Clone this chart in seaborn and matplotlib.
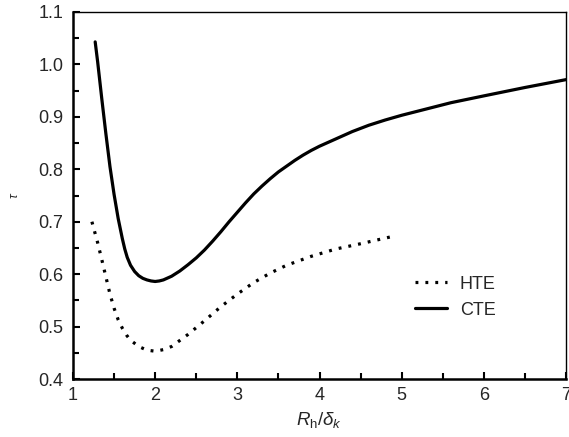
import matplotlib
matplotlib.use("Agg")
import matplotlib.pyplot as plt
import seaborn as sns
import pandas as pd
from matplotlib.ticker import MultipleLocator, FormatStrFormatter

# values
cte_x = [1.27, 1.30, 1.35, 1.40, 1.45, 1.50, 1.55, 1.60, 1.63, 1.66, 1.70, 1.75,
         1.80, 1.85, 1.90, 1.95, 2.00, 2.05, 2.10, 2.20, 2.30, 2.40, 2.50, 2.60,
         2.70, 2.80, 2.90, 3.00, 3.10, 3.20, 3.30, 3.40, 3.50, 3.60, 3.70, 3.80,
         3.90, 4.00, 4.20, 4.40, 4.60, 4.80, 5.00, 5.30, 5.60, 6.00, 6.50, 7.00]
cte_y = [1.043, 1.005, 0.935, 0.868, 0.805, 0.752, 0.706, 0.668, 0.648, 0.632, 0.617, 0.605,
         0.597, 0.592, 0.589, 0.587, 0.586, 0.587, 0.589, 0.596, 0.606, 0.618, 0.631, 0.646,
         0.663, 0.681, 0.700, 0.718, 0.736, 0.753, 0.768, 0.782, 0.795, 0.806, 0.817, 0.827,
         0.836, 0.844, 0.858, 0.872, 0.884, 0.894, 0.903, 0.915, 0.927, 0.940, 0.956, 0.971]

hte_x = [1.23, 1.30, 1.35, 1.40, 1.45, 1.50, 1.55, 1.60, 1.65, 1.70, 1.80, 1.90,
         2.00, 2.10, 2.20, 2.40, 2.60, 2.80, 3.00, 3.20, 3.40, 3.60, 3.90, 4.20,
         4.50, 4.92]
hte_y = [0.700, 0.660, 0.628, 0.595, 0.562, 0.535, 0.513, 0.497, 0.484, 0.474, 0.462, 0.455,
         0.453, 0.456, 0.462, 0.485, 0.511, 0.538, 0.562, 0.584, 0.602, 0.617, 0.634, 0.648,
         0.658, 0.673]

df = pd.concat([
    pd.DataFrame({"x": hte_x, "y": hte_y, "case": "HTE"}),
    pd.DataFrame({"x": cte_x, "y": cte_y, "case": "CTE"}),
])

sns.set_style("ticks")
plt.rcParams["font.family"] = ["Liberation Sans", "DejaVu Sans"]
plt.rcParams["mathtext.fontset"] = "custom"
plt.rcParams["mathtext.it"] = "Liberation Sans:italic"
plt.rcParams["mathtext.rm"] = "Liberation Sans"

fig = plt.figure(figsize=(5.69, 4.37), dpi=100)
ax = fig.add_axes([73 / 569, 1 - 379 / 437, 493 / 569, 367 / 437])

sns.lineplot(data=df, x="x", y="y", hue="case", style="case",
             palette={"HTE": "black", "CTE": "black"},
             dashes={"HTE": (0.9, 2.2), "CTE": ""},
             linewidth=2.3, sort=False, estimator=None, ax=ax)

ax.set_xlim(1, 7)
ax.set_ylim(0.4, 1.1)
ax.xaxis.set_major_locator(MultipleLocator(1))
ax.xaxis.set_minor_locator(MultipleLocator(0.5))
ax.yaxis.set_major_locator(MultipleLocator(0.1))
ax.yaxis.set_minor_locator(MultipleLocator(0.05))
ax.yaxis.set_major_formatter(FormatStrFormatter("%.1f"))
ax.tick_params(which="both", direction="in", top=False, right=False,
               labelsize=13, width=1.5, color="black")
ax.tick_params(which="major", length=5)
ax.tick_params(which="minor", length=4)
ax.tick_params(axis="x", pad=6)
ax.tick_params(axis="y", pad=7)

for side in ["left", "bottom"]:
    ax.spines[side].set_linewidth(1.8)
for side in ["top", "right"]:
    ax.spines[side].set_linewidth(1.0)
for s in ax.spines.values():
    s.set_color("black")

ax.set_xlabel(r"$R_\mathrm{h}/\delta_k$", fontsize=13.5, labelpad=4)
ax.set_ylabel(r"$\tau$", fontsize=9, labelpad=12)

leg = ax.legend(loc="lower left", bbox_to_anchor=(0.66, 0.12), frameon=False,
                fontsize=13, handlelength=1.8, labelspacing=0.5, handletextpad=0.7)
leg.set_title(None)
for line in leg.get_lines():
    line.set_linewidth(2.3)

fig.savefig("out.png", dpi=100)
